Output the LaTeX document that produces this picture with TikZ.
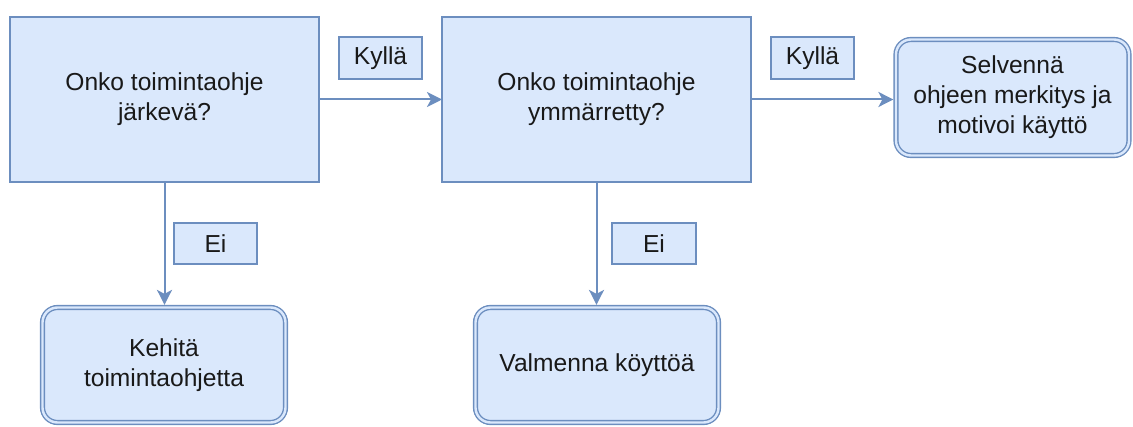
\documentclass[tikz,border=0pt]{standalone}
\usepackage{fontspec}
\setmainfont{Liberation Sans}
\usetikzlibrary{arrows.meta}
\definecolor{boxfill}{HTML}{DAE8FC}
\definecolor{boxline}{HTML}{6C8EBF}
\begin{document}
\begin{tikzpicture}[x=1pt,y=-1pt,
  txt/.style={font=\fontsize{24.6}{30}\selectfont, align=center, text=black!90},
  question/.style={txt, rectangle, draw=boxline, fill=boxfill, line width=2pt,
    inner sep=0pt, outer sep=0pt},
  outcome/.style={txt, rectangle, rounded corners=15pt, draw=boxline, line width=1.4pt,
    double=boxfill, double distance=2.4pt, fill=boxfill, inner sep=0pt, outer sep=2.6pt},
  answer/.style={txt, rectangle, draw=boxline, fill=boxfill, line width=1.8pt,
    inner sep=0pt},
  flow/.style={draw=boxline, line width=2pt, -{Stealth[length=15pt,width=15pt,inset=4pt]}}
]
\useasboundingbox (0,0) rectangle (1133,427);

% decision boxes
\node[question, minimum width=309pt, minimum height=165pt] (q1) at (164.5,99.5)
  {Onko toimintaohje\\järkevä?};
\node[question, minimum width=309pt, minimum height=165pt] (q2) at (596.5,99.5)
  {Onko toimintaohje\\ymmärretty?};

% outcome boxes
\node[outcome, minimum width=233pt, minimum height=116pt] (o1) at (1012.5,97.5)
  {Selvennä\\ohjeen merkitys ja\\motivoi käyttö};
\node[outcome, minimum width=243pt, minimum height=115pt] (o2) at (164,365)
  {Kehitä\\toimintaohjetta};
\node[outcome, minimum width=243pt, minimum height=115pt] (o3) at (597,365)
  {Valmenna köyttöä};

% answer labels
\node[answer, minimum width=83pt, minimum height=42pt] (y1) at (380.5,58) {Kyllä};
\node[answer, minimum width=83pt, minimum height=42pt] (y2) at (812.5,58) {Kyllä};
\node[answer, minimum width=83pt, minimum height=41pt] (n1) at (215.5,243.5) {Ei};
\node[answer, minimum width=84pt, minimum height=41pt] (n2) at (654,243.5) {Ei};

% connectors
\draw[flow] (q1.east) -- (q2.west);
\draw[flow] (q2.east) -- (q2.east -| o1.west);
\draw[flow] (q1.south) -- (q1.south |- o2.north);
\draw[flow] (q2.south) -- (q2.south |- o3.north);
\end{tikzpicture}
\end{document}
